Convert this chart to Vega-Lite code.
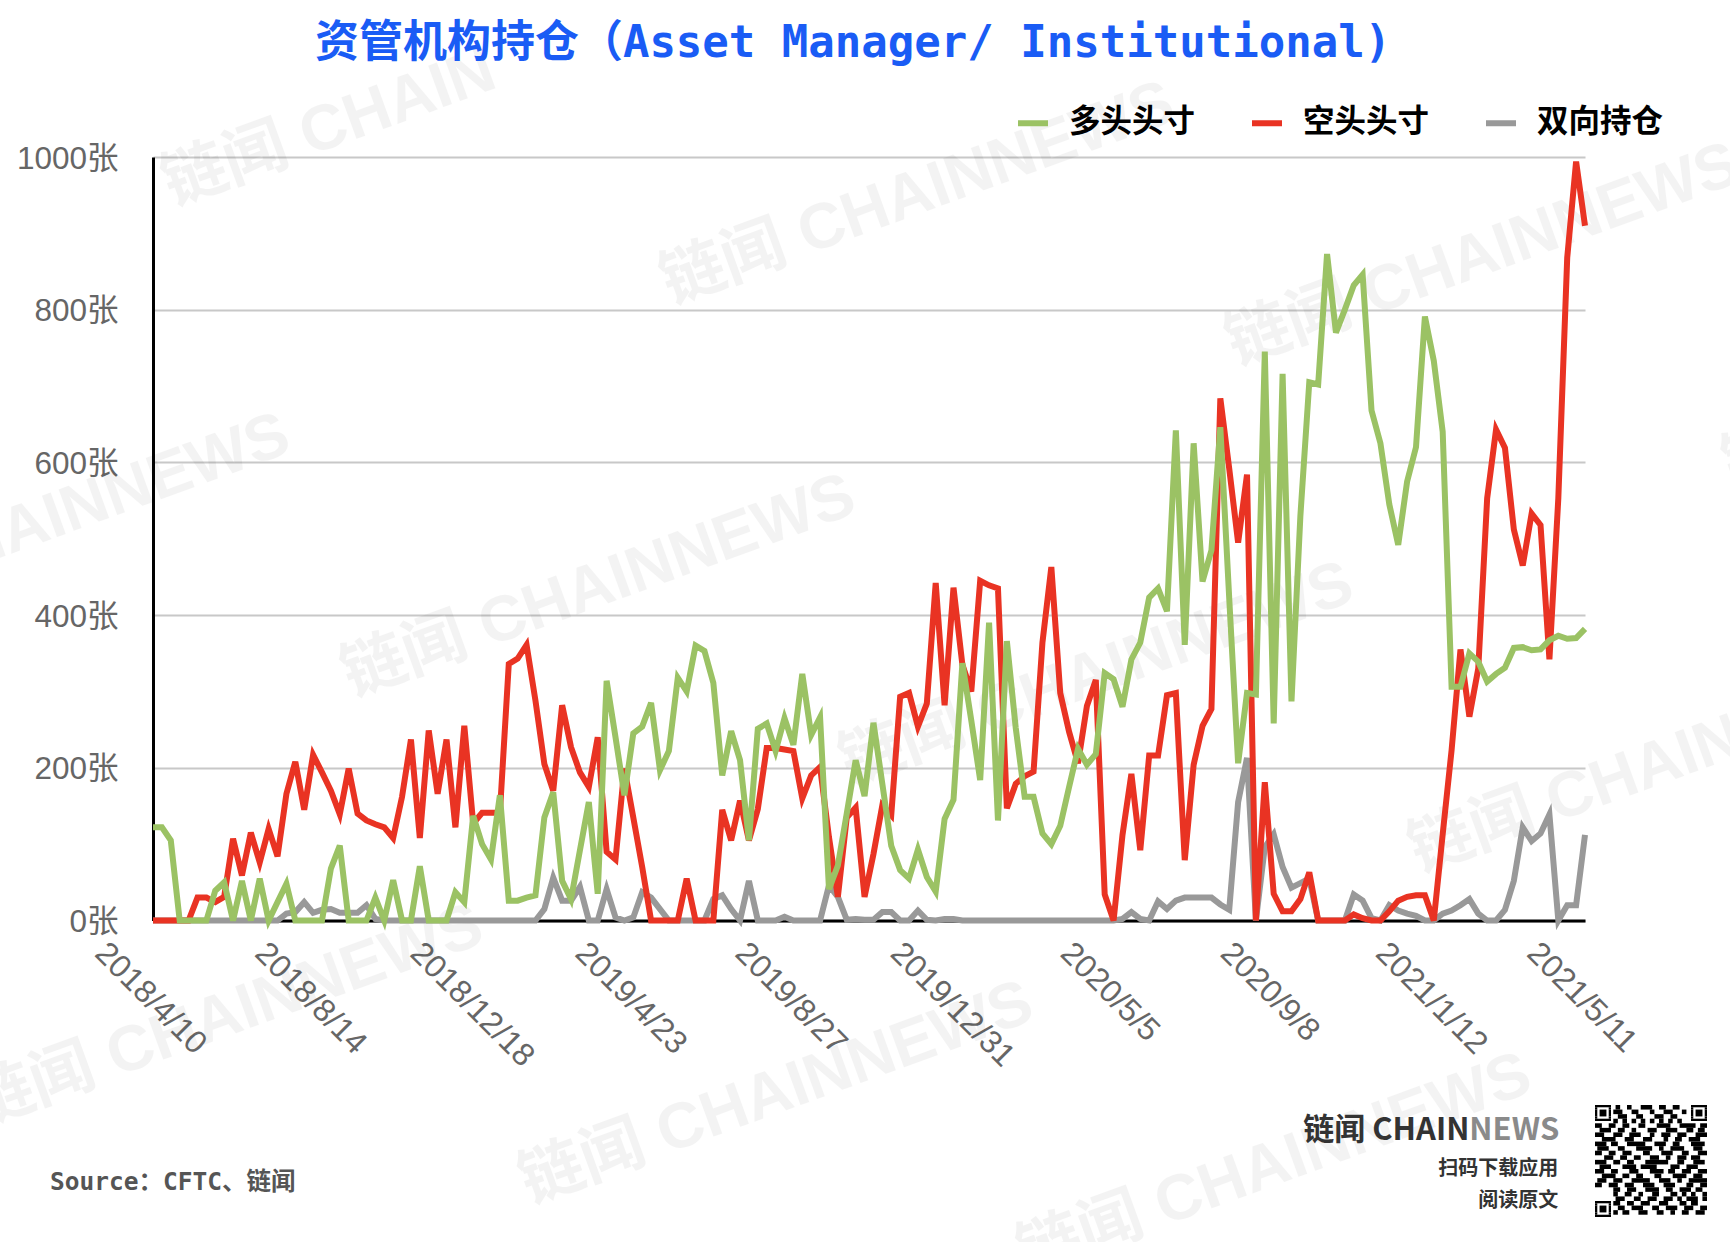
{
  "$schema": "https://vega.github.io/schema/vega-lite/v6.json",
  "width": 1432,
  "height": 763.5,
  "autosize": {"type": "none"},
  "padding": {"left": 153, "top": 157, "right": 145, "bottom": 321},
  "background": "white",
  "title": {
    "text": "资管机构持仓（Asset Manager/ Institutional)",
    "font": "DejaVu Sans Mono, Noto Sans CJK SC",
    "fontWeight": "bold",
    "fontSize": 44,
    "color": "#1a5cf5",
    "anchor": "middle",
    "dx": -16,
    "offset": -62,
    "baseline": "alphabetic"
  },
  "config": {
    "view": {"stroke": null},
    "text": {"font": "Noto Sans CJK SC"}
  },
  "datasets": {
    "positions": [
      {"date":"2018-04-10","多头头寸":122,"空头头寸":0,"双向持仓":0},
      {"date":"2018-04-17","多头头寸":122,"空头头寸":0,"双向持仓":0},
      {"date":"2018-04-24","多头头寸":105,"空头头寸":0,"双向持仓":0},
      {"date":"2018-05-01","多头头寸":0,"空头头寸":0,"双向持仓":0},
      {"date":"2018-05-08","多头头寸":0,"空头头寸":0,"双向持仓":0},
      {"date":"2018-05-15","多头头寸":0,"空头头寸":30,"双向持仓":0},
      {"date":"2018-05-22","多头头寸":0,"空头头寸":30,"双向持仓":0},
      {"date":"2018-05-29","多头头寸":39,"空头头寸":24,"双向持仓":0},
      {"date":"2018-06-05","多头头寸":50,"空头头寸":31,"双向持仓":0},
      {"date":"2018-06-12","多头头寸":0,"空头头寸":107,"双向持仓":0},
      {"date":"2018-06-19","多头头寸":52,"空头头寸":59,"双向持仓":0},
      {"date":"2018-06-26","多头头寸":0,"空头头寸":115,"双向持仓":0},
      {"date":"2018-07-03","多头头寸":55,"空头头寸":76,"双向持仓":0},
      {"date":"2018-07-10","多头头寸":0,"空头头寸":120,"双向持仓":0},
      {"date":"2018-07-17","多头头寸":24,"空头头寸":84,"双向持仓":0},
      {"date":"2018-07-24","多头头寸":48,"空头头寸":166,"双向持仓":9},
      {"date":"2018-07-31","多头头寸":0,"空头头寸":208,"双向持仓":11},
      {"date":"2018-08-07","多头头寸":0,"空头头寸":145,"双向持仓":24},
      {"date":"2018-08-14","多头头寸":0,"空头头寸":217,"双向持仓":10},
      {"date":"2018-08-21","多头头寸":0,"空头头寸":194,"双向持仓":14},
      {"date":"2018-08-28","多头头寸":68,"空头头寸":170,"双向持仓":15},
      {"date":"2018-09-04","多头头寸":98,"空头头寸":139,"双向持仓":10},
      {"date":"2018-09-11","多头头寸":0,"空头头寸":199,"双向持仓":10},
      {"date":"2018-09-18","多头头寸":0,"空头头寸":140,"双向持仓":10},
      {"date":"2018-09-25","多头头寸":0,"空头头寸":131,"双向持仓":20},
      {"date":"2018-10-02","多头头寸":30,"空头头寸":126,"双向持仓":2},
      {"date":"2018-10-09","多头头寸":0,"空头头寸":122,"双向持仓":0},
      {"date":"2018-10-16","多头头寸":53,"空头头寸":108,"双向持仓":0},
      {"date":"2018-10-23","多头头寸":0,"空头头寸":162,"双向持仓":0},
      {"date":"2018-10-30","多头头寸":0,"空头头寸":237,"双向持仓":0},
      {"date":"2018-11-06","多头头寸":71,"空头头寸":108,"双向持仓":0},
      {"date":"2018-11-13","多头头寸":0,"空头头寸":249,"双向持仓":0},
      {"date":"2018-11-20","多头头寸":0,"空头头寸":166,"双向持仓":0},
      {"date":"2018-11-27","多头头寸":0,"空头头寸":237,"双向持仓":0},
      {"date":"2018-12-04","多头头寸":37,"空头头寸":122,"双向持仓":0},
      {"date":"2018-12-11","多头头寸":24,"空头头寸":255,"双向持仓":0},
      {"date":"2018-12-18","多头头寸":137,"空头头寸":127,"双向持仓":0},
      {"date":"2018-12-25","多头头寸":100,"空头头寸":141,"双向持仓":0},
      {"date":"2019-01-01","多头头寸":80,"空头头寸":141,"双向持仓":0},
      {"date":"2019-01-08","多头头寸":164,"空头头寸":141,"双向持仓":0},
      {"date":"2019-01-15","多头头寸":26,"空头头寸":336,"双向持仓":0},
      {"date":"2019-01-22","多头头寸":26,"空头头寸":343,"双向持仓":0},
      {"date":"2019-01-29","多头头寸":30,"空头头寸":361,"双向持仓":0},
      {"date":"2019-02-05","多头头寸":33,"空头头寸":288,"双向持仓":0},
      {"date":"2019-02-12","多头头寸":135,"空头头寸":205,"双向持仓":15},
      {"date":"2019-02-19","多头头寸":168,"空头头寸":170,"双向持仓":56},
      {"date":"2019-02-26","多头头寸":52,"空头头寸":282,"双向持仓":26},
      {"date":"2019-03-05","多头头寸":28,"空头头寸":227,"双向持仓":26},
      {"date":"2019-03-12","多头头寸":92,"空头头寸":194,"双向持仓":44},
      {"date":"2019-03-19","多头头寸":155,"空头头寸":175,"双向持仓":0},
      {"date":"2019-03-26","多头头寸":35,"空头头寸":240,"双向持仓":0},
      {"date":"2019-04-02","多头头寸":314,"空头头寸":90,"双向持仓":41},
      {"date":"2019-04-09","多头头寸":240,"空头头寸":80,"双向持仓":4},
      {"date":"2019-04-16","多头头寸":164,"空头头寸":199,"双向持仓":0},
      {"date":"2019-04-23","多头头寸":245,"空头头寸":135,"双向持仓":4},
      {"date":"2019-04-30","多头头寸":254,"空头头寸":70,"双向持仓":37},
      {"date":"2019-05-07","多头头寸":285,"空头头寸":0,"双向持仓":30},
      {"date":"2019-05-14","多头头寸":197,"空头头寸":0,"双向持仓":15},
      {"date":"2019-05-21","多头头寸":222,"空头头寸":0,"双向持仓":0},
      {"date":"2019-05-28","多头头寸":318,"空头头寸":0,"双向持仓":0},
      {"date":"2019-06-04","多头头寸":300,"空头头寸":55,"双向持仓":0},
      {"date":"2019-06-11","多头头寸":360,"空头头寸":0,"双向持仓":0},
      {"date":"2019-06-18","多头头寸":353,"空头头寸":0,"双向持仓":0},
      {"date":"2019-06-25","多头头寸":311,"空头头寸":0,"双向持仓":28},
      {"date":"2019-07-02","多头头寸":190,"空头头寸":145,"双向持仓":33},
      {"date":"2019-07-09","多头头寸":248,"空头头寸":105,"双向持仓":15},
      {"date":"2019-07-16","多头头寸":210,"空头头寸":157,"双向持仓":0},
      {"date":"2019-07-23","多头头寸":105,"空头头寸":105,"双向持仓":52},
      {"date":"2019-07-30","多头头寸":251,"空头头寸":146,"双向持仓":0},
      {"date":"2019-08-06","多头头寸":258,"空头头寸":226,"双向持仓":0},
      {"date":"2019-08-13","多头头寸":222,"空头头寸":226,"双向持仓":0},
      {"date":"2019-08-20","多头头寸":265,"空头头寸":224,"双向持仓":5},
      {"date":"2019-08-27","多头头寸":230,"空头头寸":222,"双向持仓":0},
      {"date":"2019-09-03","多头头寸":323,"空头头寸":160,"双向持仓":0},
      {"date":"2019-09-10","多头头寸":243,"空头头寸":190,"双向持仓":0},
      {"date":"2019-09-17","多头头寸":266,"空头头寸":201,"双向持仓":0},
      {"date":"2019-09-24","多头头寸":41,"空头头寸":109,"双向持仓":46},
      {"date":"2019-10-01","多头头寸":72,"空头头寸":31,"双向持仓":31},
      {"date":"2019-10-08","多头头寸":140,"空头头寸":135,"双向持仓":1},
      {"date":"2019-10-15","多头头寸":210,"空头头寸":148,"双向持仓":2},
      {"date":"2019-10-22","多头头寸":163,"空头头寸":31,"双向持仓":1},
      {"date":"2019-10-29","多头头寸":259,"空头头寸":87,"双向持仓":1},
      {"date":"2019-11-05","多头头寸":179,"空头头寸":151,"双向持仓":11},
      {"date":"2019-11-12","多头头寸":98,"空头头寸":138,"双向持仓":11},
      {"date":"2019-11-19","多头头寸":66,"空头头寸":293,"双向持仓":0},
      {"date":"2019-11-26","多头头寸":55,"空头头寸":298,"双向持仓":0},
      {"date":"2019-12-03","多头头寸":93,"空头头寸":254,"双向持仓":13},
      {"date":"2019-12-10","多头头寸":57,"空头头寸":284,"双向持仓":1},
      {"date":"2019-12-17","多头头寸":38,"空头头寸":442,"双向持仓":0},
      {"date":"2019-12-24","多头头寸":133,"空头头寸":282,"双向持仓":2},
      {"date":"2019-12-31","多头头寸":158,"空头头寸":436,"双向持仓":2},
      {"date":"2020-01-07","多头头寸":337,"空头头寸":335,"双向持仓":0},
      {"date":"2020-01-14","多头头寸":262,"空头头寸":300,"双向持仓":0},
      {"date":"2020-01-21","多头头寸":184,"空头头寸":445,"双向持仓":0},
      {"date":"2020-01-28","多头头寸":390,"空头头寸":439,"双向持仓":0},
      {"date":"2020-02-04","多头头寸":131,"空头头寸":435,"双向持仓":0},
      {"date":"2020-02-11","多头头寸":366,"空头头寸":147,"双向持仓":0},
      {"date":"2020-02-18","多头头寸":252,"空头头寸":179,"双向持仓":0},
      {"date":"2020-02-25","多头头寸":162,"空头头寸":189,"双向持仓":0},
      {"date":"2020-03-03","多头头寸":162,"空头头寸":195,"双向持仓":0},
      {"date":"2020-03-10","多头头寸":114,"空头头寸":364,"双向持仓":0},
      {"date":"2020-03-17","多头头寸":100,"空头头寸":463,"双向持仓":0},
      {"date":"2020-03-24","多头头寸":124,"空头头寸":298,"双向持仓":0},
      {"date":"2020-03-31","多头头寸":175,"空头头寸":247,"双向持仓":0},
      {"date":"2020-04-07","多头头寸":225,"空头头寸":206,"双向持仓":0},
      {"date":"2020-04-14","多头头寸":204,"空头头寸":281,"双向持仓":0},
      {"date":"2020-04-21","多头头寸":218,"空头头寸":315,"双向持仓":0},
      {"date":"2020-04-28","多头头寸":324,"空头头寸":34,"双向持仓":0},
      {"date":"2020-05-05","多头头寸":316,"空头头寸":0,"双向持仓":0},
      {"date":"2020-05-12","多头头寸":280,"空头头寸":112,"双向持仓":2},
      {"date":"2020-05-19","多头头寸":342,"空头头寸":192,"双向持仓":11},
      {"date":"2020-05-26","多头头寸":364,"空头头寸":92,"双向持仓":2},
      {"date":"2020-06-02","多头头寸":423,"空头头寸":216,"双向持仓":0},
      {"date":"2020-06-09","多头头寸":435,"空头头寸":216,"双向持仓":25},
      {"date":"2020-06-16","多头头寸":405,"空头头寸":295,"双向持仓":15},
      {"date":"2020-06-23","多头头寸":642,"空头头寸":298,"双向持仓":26},
      {"date":"2020-06-30","多头头寸":361,"空头头寸":79,"双向持仓":30},
      {"date":"2020-07-07","多头头寸":625,"空头头寸":204,"双向持仓":30},
      {"date":"2020-07-14","多头头寸":444,"空头头寸":255,"双向持仓":30},
      {"date":"2020-07-21","多头头寸":485,"空头头寸":277,"双向持仓":30},
      {"date":"2020-07-28","多头头寸":646,"空头头寸":684,"双向持仓":21},
      {"date":"2020-08-04","多头头寸":422,"空头头寸":592,"双向持仓":14},
      {"date":"2020-08-11","多头头寸":206,"空头头寸":495,"双向持仓":155},
      {"date":"2020-08-18","多头头寸":298,"空头头寸":584,"双向持仓":213},
      {"date":"2020-08-25","多头头寸":296,"空头头寸":0,"双向持仓":0},
      {"date":"2020-09-01","多头头寸":745,"空头头寸":181,"双向持仓":96},
      {"date":"2020-09-08","多头头寸":258,"空头头寸":35,"双向持仓":113},
      {"date":"2020-09-15","多头头寸":716,"空头头寸":12,"双向持仓":70},
      {"date":"2020-09-22","多头头寸":287,"空头头寸":12,"双向持仓":43},
      {"date":"2020-09-29","多头头寸":530,"空头头寸":28,"双向持仓":49},
      {"date":"2020-10-06","多头头寸":705,"空头头寸":63,"双向持仓":55},
      {"date":"2020-10-13","多头头寸":702,"空头头寸":0,"双向持仓":0},
      {"date":"2020-10-20","多头头寸":873,"空头头寸":0,"双向持仓":0},
      {"date":"2020-10-27","多头头寸":770,"空头头寸":0,"双向持仓":0},
      {"date":"2020-11-03","多头头寸":800,"空头头寸":0,"双向持仓":0},
      {"date":"2020-11-10","多头头寸":832,"空头头寸":8,"双向持仓":34},
      {"date":"2020-11-17","多头头寸":846,"空头头寸":3,"双向持仓":26},
      {"date":"2020-11-24","多头头寸":668,"空头头寸":0,"双向持仓":3},
      {"date":"2020-12-01","多头头寸":625,"空头头寸":0,"双向持仓":0},
      {"date":"2020-12-08","多头头寸":545,"空头头寸":12,"双向持仓":20},
      {"date":"2020-12-15","多头头寸":492,"空头头寸":26,"双向持仓":13},
      {"date":"2020-12-22","多头头寸":575,"空头头寸":31,"双向持仓":9},
      {"date":"2020-12-29","多头头寸":620,"空头头寸":33,"双向持仓":6},
      {"date":"2021-01-05","多头头寸":791,"空头头寸":33,"双向持仓":0},
      {"date":"2021-01-12","多头头寸":733,"空头头寸":0,"双向持仓":0},
      {"date":"2021-01-19","多头头寸":640,"空头头寸":113,"双向持仓":9},
      {"date":"2021-01-26","多头头寸":306,"空头头寸":223,"双向持仓":13},
      {"date":"2021-02-02","多头头寸":306,"空头头寸":355,"双向持仓":20},
      {"date":"2021-02-09","多头头寸":350,"空头头寸":267,"双向持仓":28},
      {"date":"2021-02-16","多头头寸":339,"空头头寸":330,"双向持仓":9},
      {"date":"2021-02-23","多头头寸":313,"空头头寸":553,"双向持仓":0},
      {"date":"2021-03-02","多头头寸":323,"空头头寸":643,"双向持仓":0},
      {"date":"2021-03-09","多头头寸":331,"空头头寸":619,"双向持仓":14},
      {"date":"2021-03-16","多头头寸":357,"空头头寸":512,"双向持仓":52},
      {"date":"2021-03-23","多头头寸":358,"空头头寸":465,"双向持仓":122},
      {"date":"2021-03-30","多头头寸":354,"空头头寸":533,"双向持仓":104},
      {"date":"2021-04-06","多头头寸":355,"空头头寸":518,"双向持仓":114},
      {"date":"2021-04-13","多头头寸":367,"空头头寸":342,"双向持仓":139},
      {"date":"2021-04-20","多头头寸":373,"空头头寸":553,"双向持仓":0},
      {"date":"2021-04-27","多头头寸":369,"空头头寸":868,"双向持仓":20},
      {"date":"2021-05-04","多头头寸":370,"空头头寸":994,"双向持仓":20},
      {"date":"2021-05-11","多头头寸":382,"空头头寸":910,"双向持仓":112}
    ],
    "notes": [
      {"kind":"mark","date":"2018-04-25","value":936,"text":"链闻 CHAIN"},
      {"kind":"mark","date":"2019-05-22","value":807,"text":"链闻 CHAINNEWS"},
      {"kind":"mark","date":"2020-08-09","value":727,"text":"链闻 CHAINNEWS"},
      {"kind":"mark","date":"2017-06-25","value":373,"text":"链闻 CHAINNEWS"},
      {"kind":"mark","date":"2018-09-13","value":293,"text":"链闻 CHAINNEWS"},
      {"kind":"mark","date":"2019-10-10","value":178,"text":"链闻 CHAINNEWS"},
      {"kind":"mark","date":"2020-12-31","value":63,"text":"链闻 CHAINNEWS"},
      {"kind":"mark","date":"2017-11-24","value":-270,"text":"链闻 CHAINNEWS"},
      {"kind":"mark","date":"2019-01-31","value":-371,"text":"链闻 CHAINNEWS"},
      {"kind":"mark","date":"2020-02-27","value":-465,"text":"链闻 CHAINNEWS"},
      {"kind":"mark","date":"2021-09-04","value":568,"text":"链闻 CHAINNEWS"},
      {"kind":"source","date":"2018-01-19","value":-344,"text":"Source：CFTC、链闻"},
      {"kind":"brand","date":"2021-02-09","value":-276,"text":"链闻 CHAIN"},
      {"kind":"brandgrey","date":"2021-02-09","value":-276,"text":"NEWS"},
      {"kind":"app","date":"2021-04-20","value":-325,"text":"扫码下载应用"},
      {"kind":"app","date":"2021-04-20","value":-368,"text":"阅读原文"}
    ],
    "qr": [
      {"r":0,"r2":1,"a":[0,42],"b":[7,49]},
      {"r":1,"r2":2,"a":[0,6,42,48],"b":[1,7,43,49]},
      {"r":2,"r2":5,"a":[0,2,6,42,44,48],"b":[1,5,7,43,47,49]},
      {"r":5,"r2":6,"a":[0,6,42,48],"b":[1,7,43,49]},
      {"r":6,"r2":7,"a":[0,42],"b":[7,49]},
      {"r":42,"r2":43,"a":[0],"b":[7]},
      {"r":43,"r2":44,"a":[0,6],"b":[1,7]},
      {"r":44,"r2":47,"a":[0,2,6],"b":[1,5,7]},
      {"r":47,"r2":48,"a":[0,6],"b":[1,7]},
      {"r":48,"r2":49,"a":[0],"b":[7]},
      {"r":0,"r2":2,"a":[9,14,20,28,34],"b":[11,16,25,31,37]},
      {"r":2,"r2":4,"a":[8,16,24,30,38],"b":[12,19,26,34,40]},
      {"r":4,"r2":6,"a":[10,18,26,33],"b":[14,21,30,36]},
      {"r":6,"r2":8,"a":[8,12,16,20,24,28,32,36],"b":[10,14,18,22,26,30,34,38]},
      {"r":8,"r2":10,"a":[0,6,12,19,27,37,46],"b":[3,9,15,22,33,44,49]},
      {"r":10,"r2":12,"a":[2,10,16,23,31,40,45],"b":[7,13,18,27,36,43,48]},
      {"r":12,"r2":14,"a":[0,8,15,24,29,36,44],"b":[4,12,20,26,33,40,49]},
      {"r":14,"r2":16,"a":[3,13,21,30,35,41],"b":[9,17,25,32,38,46]},
      {"r":16,"r2":18,"a":[0,7,14,26,34,42],"b":[5,10,22,31,37,48]},
      {"r":18,"r2":20,"a":[1,10,18,28,33,43],"b":[6,13,25,30,39,47]},
      {"r":20,"r2":22,"a":[0,6,12,21,29,38,45],"b":[3,9,16,24,34,41,49]},
      {"r":22,"r2":24,"a":[4,11,17,24,31,36,42],"b":[8,14,20,28,33,40,46]},
      {"r":24,"r2":26,"a":[0,8,14,22,36,43],"b":[5,11,17,32,39,48]},
      {"r":26,"r2":28,"a":[2,12,20,33,40],"b":[7,18,27,37,45]},
      {"r":28,"r2":30,"a":[0,7,15,24,32,38,45],"b":[4,10,19,30,35,42,49]},
      {"r":30,"r2":32,"a":[3,12,18,26,34,43],"b":[9,15,21,29,40,47]},
      {"r":32,"r2":34,"a":[1,8,16,28,36,41],"b":[5,12,24,33,38,49]},
      {"r":34,"r2":36,"a":[0,6,13,21,30,40,46],"b":[3,10,17,26,35,43,49]},
      {"r":36,"r2":38,"a":[8,14,22,31,37,44],"b":[11,18,28,34,42,47]},
      {"r":38,"r2":40,"a":[8,13,19,25,33,38,42,47],"b":[10,16,21,28,36,40,44,49]},
      {"r":40,"r2":42,"a":[9,17,23,30,36,40,47],"b":[13,20,27,34,38,45,49]},
      {"r":42,"r2":44,"a":[8,14,20,28,37,42],"b":[11,17,24,32,40,45]},
      {"r":44,"r2":46,"a":[10,16,25,31,39,46],"b":[13,21,28,36,43,49]},
      {"r":46,"r2":48,"a":[8,12,19,27,33,38,44],"b":[10,15,23,30,35,41,48]}
    ]
  },
  "layer": [
    {
      "encoding": {
        "x": {
          "field": "date",
          "type": "temporal",
          "title": null,
          "scale": {"type": "utc", "domain": ["2018-04-10", "2021-05-11"]},
          "axis": {
            "values": ["2018-04-10", "2018-08-14", "2018-12-18", "2019-04-23", "2019-08-27", "2019-12-31", "2020-05-05", "2020-09-08", "2021-01-12", "2021-05-11"],
            "format": "%Y/%-m/%-d",
            "grid": false,
            "ticks": false,
            "domainColor": "black",
            "domainWidth": 3,
            "labelFont": "Liberation Sans",
            "labelFontSize": 32,
            "labelColor": "#666666",
            "labelAngle": 45,
            "labelAlign": "left",
            "labelBaseline": "middle",
            "labelOffset": {
              "condition": [
                {"test": "length(datum.label) == 10", "value": -58},
                {"test": "length(datum.label) == 8", "value": -48}
              ],
              "value": -53
            },
            "labelPadding": 27,
            "labelOverlap": false,
            "labelFlush": false,
            "labelBound": false
          }
        },
        "y": {
          "field": "value",
          "type": "quantitative",
          "title": null,
          "scale": {"domain": [0, 1000], "nice": false},
          "axis": {
            "values": [0, 200, 400, 600, 800, 1000],
            "labelExpr": "datum.label + '张'",
            "format": "d",
            "grid": true,
            "gridColor": "#c8c8c8",
            "gridWidth": 2,
            "ticks": false,
            "domainColor": "black",
            "domainWidth": 3,
            "labelFont": "Liberation Sans, Noto Sans CJK SC",
            "labelFontSize": 31.5,
            "labelColor": "#666666",
            "labelPadding": 35,
            "labelOffset": 2
          }
        }
      },
      "layer": [
        {
          "data": {"name": "notes"},
          "transform": [{"filter": {"field": "kind", "equal": "mark"}}],
          "mark": {"type": "text", "align": "left", "baseline": "alphabetic", "angle": -20, "fontSize": 64, "fontWeight": "bold", "font": "Liberation Sans, Noto Sans CJK SC", "color": "#000000", "opacity": 0.045},
          "encoding": {"text": {"field": "text"}}
        },
        {
          "data": {"name": "positions"},
          "transform": [{"fold": ["双向持仓", "空头头寸", "多头头寸"], "as": ["series", "value"]}],
          "mark": {"type": "line", "strokeWidth": 6, "strokeJoin": "miter", "strokeCap": "butt"},
          "encoding": {
            "color": {
              "field": "series",
              "type": "nominal",
              "scale": {"domain": ["多头头寸", "空头头寸", "双向持仓"], "range": ["#9bc264", "#e93323", "#999999"]},
              "legend": {
                "title": null,
                "orient": "none",
                "direction": "horizontal",
                "columns": 3,
                "legendX": 862,
                "legendY": -52,
                "symbolType": "stroke",
                "symbolSize": 900,
                "symbolStrokeWidth": 6,
                "labelFont": "Noto Sans CJK SC",
                "labelFontWeight": "bold",
                "labelFontSize": 31.5,
                "labelColor": "black",
                "labelOffset": 18,
                "columnPadding": 44
              }
            }
          }
        },
        {
          "data": {"name": "notes"},
          "transform": [{"filter": {"field": "kind", "equal": "source"}}],
          "mark": {"type": "text", "align": "left", "fontSize": 24.5, "fontWeight": "bold", "font": "DejaVu Sans Mono, Noto Sans CJK SC", "color": "#555555"},
          "encoding": {"text": {"field": "text"}}
        },
        {
          "data": {"name": "notes"},
          "transform": [{"filter": {"field": "kind", "equal": "brand"}}],
          "mark": {"type": "text", "align": "right", "fontSize": 31, "fontWeight": "bold", "color": "#333333"},
          "encoding": {"text": {"field": "text"}}
        },
        {
          "data": {"name": "notes"},
          "transform": [{"filter": {"field": "kind", "equal": "brandgrey"}}],
          "mark": {"type": "text", "align": "left", "fontSize": 31, "fontWeight": "bold", "color": "#8a8a8a"},
          "encoding": {"text": {"field": "text"}}
        },
        {
          "data": {"name": "notes"},
          "transform": [{"filter": {"field": "kind", "equal": "app"}}],
          "mark": {"type": "text", "align": "right", "fontSize": 20, "fontWeight": "bold", "color": "#333333"},
          "encoding": {"text": {"field": "text"}}
        }
      ]
    },
    {
      "data": {"name": "qr"},
      "transform": [{"flatten": ["a", "b"]}],
      "mark": {"type": "rect", "color": "black"},
      "encoding": {
        "x": {"field": "a", "type": "quantitative", "axis": null, "scale": {"domain": [0, 49], "range": [1442, 1554], "nice": false, "zero": false}},
        "x2": {"field": "b"},
        "y": {"field": "r", "type": "quantitative", "axis": null, "scale": {"domain": [0, 49], "range": [948, 1060], "nice": false, "zero": false}},
        "y2": {"field": "r2"}
      }
    }
  ],
  "resolve": {"scale": {"x": "independent", "y": "independent"}}
}
